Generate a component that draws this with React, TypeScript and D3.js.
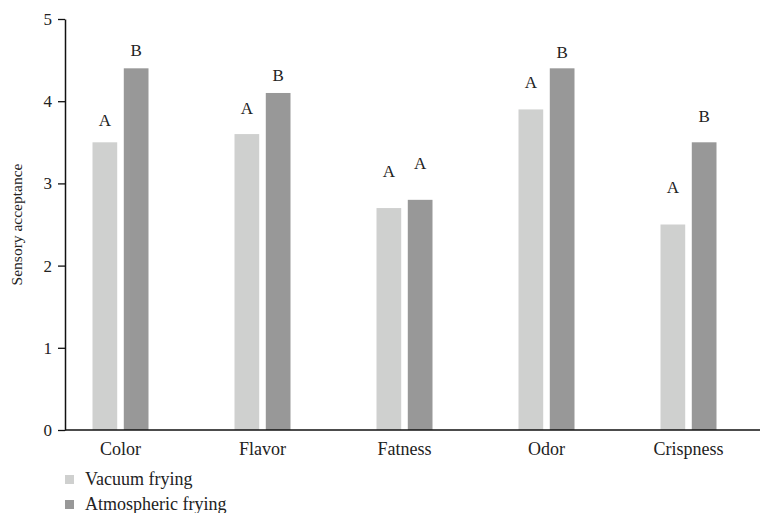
import * as d3 from "d3"
import { useEffect, useRef } from "react"

const categories = ["Color", "Flavor", "Fatness", "Odor", "Crispness"]
const seriesNames = ["Vacuum frying", "Atmospheric frying"]
const vacuumValues = [3.5, 3.6, 2.7, 3.9, 2.5]
const atmosphericValues = [4.4, 4.1, 2.8, 4.4, 3.5]
const vacuumLetters = ["A", "A", "A", "A", "A"]
const atmosphericLetters = ["B", "B", "A", "B", "B"]
// where the significance letters sit (in axis units)
const vacuumLetterPos = [3.7, 3.84, 3.08, 4.16, 2.88]
const atmosphericLetterPos = [4.55, 4.25, 3.18, 4.53, 3.75]
const yTicks = [0, 1, 2, 3, 4, 5]
const colors = ["#cfd0cf", "#989898"]

const FONT = "'Liberation Serif', 'DejaVu Serif', serif"

const SensoryChart = () => {
  const svgRef = useRef<SVGSVGElement | null>(null)

  useEffect(() => {
    if (!svgRef.current) return
    const svg = d3.select(svgRef.current)
    svg.selectAll("*").remove()

    const left = 65
    const right = 760
    const top = 19
    const bottom = 430

    const x = d3.scaleBand().domain(categories).range([49.5, 759.5]).padding(0)
    const xSub = d3
      .scaleBand()
      .domain(seriesNames)
      .range([-28, 28])
      .paddingInner(0.21)
      .paddingOuter(0)
    const y = d3.scaleLinear().domain([0, 5]).range([bottom, top])

    const rows = categories.map((c, i) => ({
      category: c,
      bars: [
        { name: seriesNames[0], value: vacuumValues[i], letter: vacuumLetters[i], pos: vacuumLetterPos[i], color: colors[0] },
        { name: seriesNames[1], value: atmosphericValues[i], letter: atmosphericLetters[i], pos: atmosphericLetterPos[i], color: colors[1] }
      ]
    }))

    // Bars
    const groups = svg
      .append("g")
      .selectAll("g")
      .data(rows)
      .enter()
      .append("g")
      .attr("transform", d => `translate(${(x(d.category) || 0) + x.bandwidth() / 2},0)`)

    groups
      .selectAll("rect")
      .data(d => d.bars)
      .enter()
      .append("rect")
      .attr("x", d => xSub(d.name) || 0)
      .attr("width", xSub.bandwidth())
      .attr("y", d => y(d.value))
      .attr("height", d => bottom - y(d.value))
      .attr("fill", d => d.color)

    groups
      .selectAll("text")
      .data(d => d.bars)
      .enter()
      .append("text")
      .attr("x", d => (xSub(d.name) || 0) + xSub.bandwidth() / 2)
      .attr("y", d => y(d.pos))
      .attr("text-anchor", "middle")
      .style("font-family", FONT)
      .style("font-size", "17px")
      .style("fill", "#222")
      .text(d => d.letter)

    // Y axis
    const yAxis = svg
      .append("g")
      .attr("transform", `translate(${left},0)`)
      .call(
        d3
          .axisLeft(y)
          .tickValues(yTicks)
          .tickFormat(d3.format("d"))
          .tickSize(7)
          .tickSizeOuter(0)
          .tickPadding(6)
      )
    yAxis.select(".domain").attr("stroke", "#111").attr("stroke-width", 1.5)
    yAxis.selectAll(".tick line").attr("stroke", "#111").attr("stroke-width", 1.3)
    yAxis
      .selectAll(".tick text")
      .style("font-family", FONT)
      .style("font-size", "17px")
      .style("fill", "#222")

    // X axis
    const xAxis = svg
      .append("g")
      .attr("transform", `translate(0,${bottom})`)
      .call(d3.axisBottom(x).tickSize(0).tickPadding(12))
    xAxis.select(".domain").remove()
    xAxis
      .selectAll(".tick text")
      .style("font-family", FONT)
      .style("font-size", "18px")
      .style("fill", "#222")
    svg
      .append("line")
      .attr("x1", left)
      .attr("x2", right)
      .attr("y1", bottom)
      .attr("y2", bottom)
      .attr("stroke", "#111")
      .attr("stroke-width", 1.5)

    // Y label
    svg
      .append("text")
      .attr("transform", `translate(22,${(top + bottom) / 2}) rotate(-90)`)
      .attr("text-anchor", "middle")
      .style("font-family", FONT)
      .style("font-size", "15.5px")
      .style("fill", "#222")
      .text("Sensory acceptance")

    // Legend
    const legend = svg
      .append("g")
      .selectAll("g")
      .data(seriesNames)
      .enter()
      .append("g")
      .attr("transform", (_, i) => `translate(65,${475 + i * 25})`)
    legend
      .append("rect")
      .attr("width", 9)
      .attr("height", 9)
      .attr("fill", (_, i) => colors[i])
    legend
      .append("text")
      .attr("x", 20)
      .attr("y", 9.5)
      .style("font-family", FONT)
      .style("font-size", "18px")
      .style("fill", "#222")
      .text(d => d)
  }, [])

  return (
    <div style={{ width: 762, height: 513 }}>
      <svg ref={svgRef} width={762} height={513} style={{ display: "block" }} />
    </div>
  )
}

export default function App() {
  return (
    <div style={{ position: "absolute", left: 0, top: 0 }}>
      <SensoryChart />
    </div>
  )
}
